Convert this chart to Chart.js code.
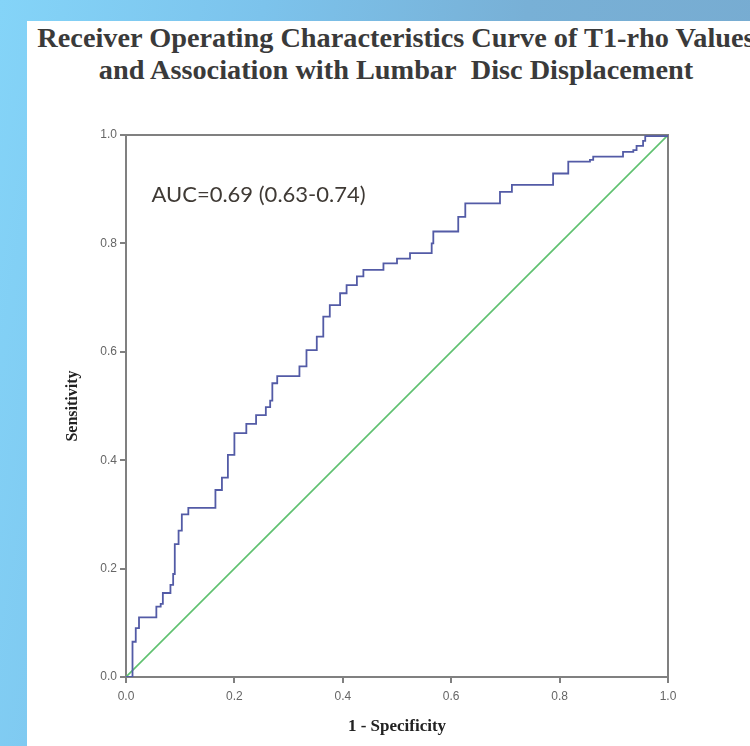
<!DOCTYPE html>
<html>
<head>
<meta charset="utf-8">
<script src="https://cdn.jsdelivr.net/npm/chart.js@4.4.1/dist/chart.umd.min.js"></script>
<style>
  html, body { margin: 0; padding: 0; }
  body {
    width: 750px; height: 746px; overflow: hidden; position: relative;
    background: linear-gradient(100deg, #84d4f8 0%, #7cc3ec 30%, #78b0d6 60%, #77aacf 100%);
  }
  #panel {
    position: absolute; left: 27px; top: 21px; width: 723px; height: 725px;
    background: #fff;
  }
  #title {
    position: absolute; left: 0; top: 22px; width: 792px;
    text-align: center; white-space: nowrap;
    font-family: "Liberation Serif", "DejaVu Serif", serif; font-weight: bold;
    font-size: 28.3px; line-height: 32px; color: #3a3a3a;
  }
  #chart { position: absolute; left: 0; top: 0; }
</style>
</head>
<body>
<div id="panel"></div>
<div id="title">Receiver Operating Characteristics Curve of T1-rho Values<br>and Association with Lumbar&nbsp; Disc Displacement</div>
<canvas id="chart" width="750" height="746"></canvas>
<script>
// ROC curve: 1 - specificity vs sensitivity
const fpr = [0, 0.012, 0.012, 0.018, 0.024, 0.05, 0.056, 0.064, 0.068, 0.078, 0.082, 0.087,
  0.09, 0.097, 0.103, 0.115, 0.158, 0.165, 0.177, 0.188, 0.2, 0.222, 0.24, 0.258, 0.266,
  0.27, 0.279, 0.32, 0.333, 0.352, 0.364, 0.376, 0.395, 0.407, 0.426, 0.438, 0.475, 0.5,
  0.524, 0.55, 0.564, 0.567, 0.595, 0.613, 0.626, 0.662, 0.69, 0.712, 0.758, 0.788, 0.816,
  0.856, 0.862, 0.908, 0.917, 0.936, 0.942, 0.954, 0.958, 1];
const tpr = [0, 0, 0.065, 0.09, 0.11, 0.11, 0.13, 0.135, 0.155, 0.155, 0.17, 0.19,
  0.245, 0.27, 0.3, 0.312, 0.312, 0.345, 0.368, 0.41, 0.45, 0.467, 0.483, 0.498, 0.51,
  0.542, 0.555, 0.573, 0.603, 0.628, 0.665, 0.686, 0.708, 0.723, 0.739, 0.751, 0.763, 0.772,
  0.782, 0.782, 0.8, 0.822, 0.822, 0.849, 0.874, 0.874, 0.895, 0.908, 0.908, 0.929, 0.951,
  0.954, 0.96, 0.96, 0.969, 0.972, 0.98, 0.989, 0.998, 1];
const refLine = [0, 1];
const tickValues = [0, 0.2, 0.4, 0.6, 0.8, 1];
const aucLabel = "AUC=0.69 (0.63-0.74)";

const axisGray = "#808080";
const tickFont = { family: "Liberation Sans, Arial, sans-serif", size: 12 };

// draws the AUC note at data coordinates
const aucNote = {
  id: "aucNote",
  afterDatasetsDraw(chart) {
    const { ctx, scales } = chart;
    ctx.save();
    ctx.font = "22px Lato, 'Open Sans', sans-serif";
    ctx.fillStyle = "#3f3a35";
    ctx.textBaseline = "middle";
    ctx.fillText(aucLabel, scales.x.getPixelForValue(0.047), scales.y.getPixelForValue(0.889));
    ctx.restore();
  }
};

function fixedWidth(w) { return (scale) => { scale.width = w; }; }
function fixedHeight(h) { return (scale) => { scale.height = h; }; }

const bottomAxis = {
  type: "linear", position: "bottom", min: 0, max: 1,
  afterFit: fixedHeight(60),
  afterBuildTicks: (scale) => { scale.ticks = tickValues.map(v => ({ value: v })); },
  ticks: { color: "#666", font: tickFont, padding: 6, maxRotation: 0,
    callback: (v) => v.toFixed(1) },
  grid: { display: true, drawOnChartArea: false, drawTicks: true, tickLength: 6,
    color: axisGray, lineWidth: 2 },
  border: { display: true, color: axisGray, width: 2 },
  title: { display: true, text: "1 - Specificity", color: "#222",
    font: { family: "Liberation Serif, serif", size: 17, weight: "bold" },
    padding: { top: 0, bottom: 0 } }
};

const leftAxis = {
  type: "linear", position: "left", min: 0, max: 1,
  afterFit: fixedWidth(66),
  afterBuildTicks: (scale) => { scale.ticks = tickValues.map(v => ({ value: v })); },
  ticks: { color: "#666", font: tickFont, padding: 3,
    callback: (v) => v.toFixed(1) },
  grid: { display: true, drawOnChartArea: false, drawTicks: true, tickLength: 6,
    color: axisGray, lineWidth: 2 },
  border: { display: true, color: axisGray, width: 2 },
  title: { display: true, text: "Sensitivity", color: "#222",
    font: { family: "Liberation Serif, serif", size: 16, weight: "bold" },
    padding: { top: 3, bottom: 0 } }
};

// top and right axes only close the frame
const frameAxis = (position, fit) => ({
  type: "linear", position, min: 0, max: 1, afterFit: fit,
  ticks: { display: false },
  grid: { display: false },
  border: { display: true, color: axisGray, width: 2 }
});

new Chart(document.getElementById("chart"), {
  type: "scatter",
  data: {
    datasets: [
      {
        label: "T1-rho",
        data: fpr.map((x, i) => ({ x, y: tpr[i] })),
        showLine: true, stepped: "before", borderColor: "#535ba6", borderWidth: 1.8,
        pointRadius: 0, fill: false
      },
      {
        label: "Reference",
        data: refLine.map(v => ({ x: v, y: v })),
        showLine: true, borderColor: "#5fc170", borderWidth: 1.6,
        pointRadius: 0, fill: false
      }
    ]
  },
  options: {
    responsive: false,
    animation: false,
    layout: { padding: { left: 60, right: 82, top: 135, bottom: 9 } },
    plugins: { legend: { display: false }, tooltip: { enabled: false } },
    scales: {
      x: bottomAxis,
      y: leftAxis,
      x2: frameAxis("top", fixedHeight(0)),
      y2: frameAxis("right", fixedWidth(0))
    }
  },
  plugins: [aucNote]
});
</script>
</body>
</html>
